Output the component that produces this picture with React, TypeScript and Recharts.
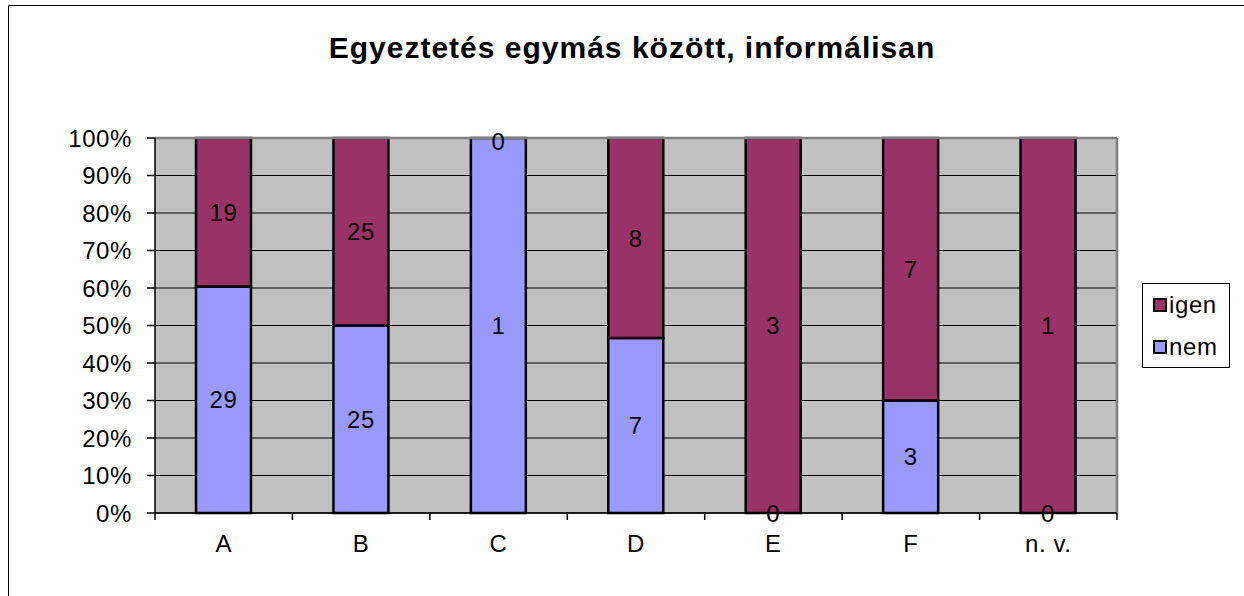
import React from 'react';
import { BarChart, Bar, XAxis, YAxis, CartesianGrid, LabelList, Legend, ReferenceLine } from 'recharts';

const categories = ['A', 'B', 'C', 'D', 'E', 'F', 'n. v.'];
const nemValues = [29, 25, 1, 7, 0, 3, 0];
const igenValues = [19, 25, 0, 8, 3, 7, 1];
const yTicks = [0, 0.1, 0.2, 0.3, 0.4, 0.5, 0.6, 0.7, 0.8, 0.9, 1];
const xTicks = [0, 0.5, 1, 1.5, 2, 2.5, 3, 3.5, 4, 4.5, 5, 5.5, 6, 6.5, 7];
const legendOrder = ['igen', 'nem'];
const title = 'Egyeztetés egymás között, informálisan';

const data = categories.map((name, i) => ({ name, pos: i + 0.5, nem: nemValues[i], igen: igenValues[i] }));

const FONT = '"Liberation Sans", Arial, sans-serif';
const FS = 24;
const LS = 0.6;

const BottomTick = (props: any) => {
  const { x, y, payload } = props;
  const v = payload.value as number;
  if (Number.isInteger(v)) {
    return <line x1={x} y1={y} x2={x} y2={y + 7} stroke="#000" strokeWidth={1.5} />;
  }
  const label = categories[Math.floor(v)];
  return (
    <text x={x} y={y + 39} textAnchor="middle" fontFamily={FONT} fontSize={FS} letterSpacing={LS} fill="#000">
      {label}
    </text>
  );
};

const Lbl = ({ x, y, v }: { x: number; y: number; v: number }) => (
  <text x={x} y={y} textAnchor="middle" dominantBaseline="central" fontFamily={FONT} fontSize={FS} letterSpacing={LS} fill="#000">
    {v}
  </text>
);

// Label content: value is the whole data entry; draws own value at centre,
// plus the partner's "0" at the shared edge when the partner segment is zero.
const makeLabel = (ownKey: 'nem' | 'igen', partnerKey: 'nem' | 'igen', edge: 'top' | 'bottom') => (props: any) => {
  const vb = props.viewBox || props;
  const x = Number(vb.x);
  const y = Number(vb.y);
  const w = Number(vb.width);
  const h = Number(vb.height);
  const entry = props.value;
  if (!(h > 0) || !entry || typeof entry !== 'object') return null;
  const cx = x + w / 2;
  return (
    <g>
      <Lbl x={cx} y={y + h / 2} v={entry[ownKey]} />
      {entry[partnerKey] === 0 && <Lbl x={cx} y={edge === 'top' ? y + 3 : y + h} v={0} />}
    </g>
  );
};

const nemLabel = makeLabel('nem', 'igen', 'top');
const igenLabel = makeLabel('igen', 'nem', 'bottom');
const wholeEntry = (d: any) => d;

const renderLegend = (props: any) => {
  const payload = props.payload || [];
  const items = legendOrder
    .map((k) => payload.find((p: any) => p.value === k))
    .filter(Boolean);
  return (
    <div
      style={{
        width: 88,
        height: 85,
        border: '1.5px solid #000',
        background: '#fff',
        boxSizing: 'border-box',
        paddingTop: 10,
        paddingLeft: 10,
        fontFamily: FONT,
        fontSize: FS,
        letterSpacing: LS,
      }}
    >
      {items.map((it: any) => (
        <div key={it.value} style={{ display: 'flex', alignItems: 'center', height: 22, marginBottom: 20 }}>
          <span
            style={{
              display: 'inline-block',
              width: 10,
              height: 10,
              background: it.color,
              border: '2px solid #000',
              marginRight: 2,
            }}
          />
          <span>{it.value}</span>
        </div>
      ))}
    </div>
  );
};

export default function App() {
  return (
    <div style={{ position: 'absolute', left: 8, top: 5, width: 1236, height: 591, borderTop: '1px solid #000', borderLeft: '1px solid #000', background: '#fff' }}>
      <div
        style={{
          position: 'absolute',
          left: -8,
          width: 1262,
          top: 27,
          textAlign: 'center',
          fontFamily: FONT,
          fontWeight: 'bold',
          fontSize: 30,
          lineHeight: '30px',
          letterSpacing: 1,
          color: '#000',
        }}
      >
        {title}
      </div>
      <BarChart
        width={1235}
        height={590}
        data={data}
        stackOffset="expand"
        margin={{ top: 132, right: 127, left: 0, bottom: 43 }}
      >
        <CartesianGrid vertical={false} stroke="#000" fill="#C0C0C0" fillOpacity={1} />
        <XAxis
          dataKey="pos"
          type="number"
          domain={[0, 7]}
          allowDataOverflow
          ticks={xTicks}
          interval={0}
          tickLine={false}
          tickSize={0}
          tickMargin={0}
          height={40}
          axisLine={{ stroke: '#000', strokeWidth: 1.5 }}
          tick={<BottomTick />}
        />
        <YAxis
          type="number"
          domain={[0, 1]}
          ticks={yTicks}
          interval={0}
          width={146}
          tickSize={8}
          tickMargin={15}
          tickFormatter={(v: number) => `${Math.round(v * 100)}%`}
          tick={{ fontFamily: FONT, fontSize: FS, fill: '#000', letterSpacing: LS }}
          axisLine={{ stroke: '#000', strokeWidth: 1.5 }}
          tickLine={{ stroke: '#000', strokeWidth: 1.5 }}
        />
        <ReferenceLine y={1} stroke="#808080" strokeWidth={2.5} />
        <ReferenceLine x={7} stroke="#808080" strokeWidth={2.5} />
        <Bar dataKey="nem" name="nem" stackId="s" fill="#9999FF" stroke="#000" strokeWidth={2.5} barSize={55} isAnimationActive={false}>
          <LabelList dataKey={wholeEntry} content={nemLabel} />
        </Bar>
        <Bar dataKey="igen" name="igen" stackId="s" fill="#993366" stroke="#000" strokeWidth={2.5} barSize={55} isAnimationActive={false}>
          <LabelList dataKey={wholeEntry} content={igenLabel} />
        </Bar>
        <Legend
          layout="horizontal"
          verticalAlign="middle"
          align="center"
          content={renderLegend}
          wrapperStyle={{ position: 'absolute', left: 1133, top: 277, width: 88, height: 85 }}
        />
      </BarChart>
    </div>
  );
}
